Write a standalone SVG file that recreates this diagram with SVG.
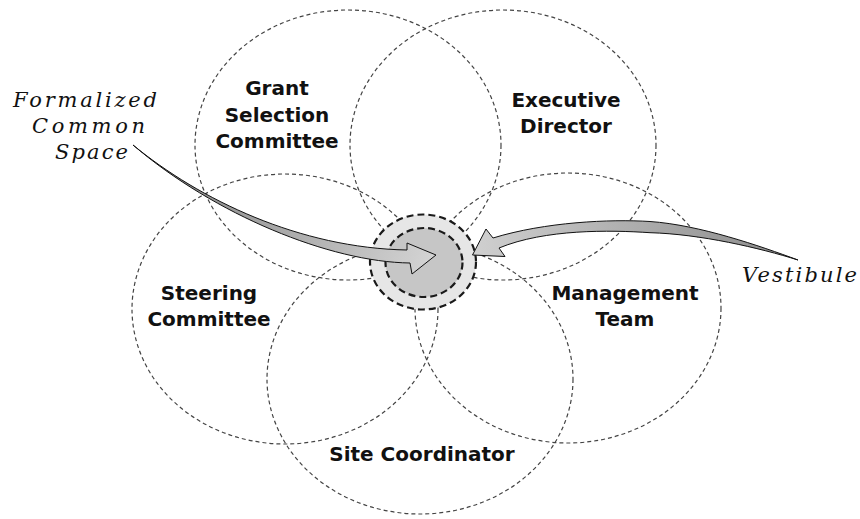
<svg xmlns="http://www.w3.org/2000/svg" width="860" height="519" viewBox="0 0 860 519">
<style>
.ring{fill:none;stroke:#444;stroke-width:1.2;stroke-dasharray:4 3}
.lbl{font-family:"DejaVu Sans","Liberation Sans",sans-serif;font-weight:bold;font-size:20px;fill:#111;text-anchor:middle}
.script{font-family:"DejaVu Serif","Liberation Serif",serif;font-style:italic;font-size:21px;fill:#111}
.core{stroke:#1a1a1a;stroke-width:2.2;stroke-dasharray:7 4}
.arrow{stroke:#111;stroke-width:1;stroke-linejoin:miter}
</style>
<defs>
<linearGradient id="gL" x1="133" y1="145" x2="436" y2="255" gradientUnits="userSpaceOnUse">
<stop offset="0" stop-color="#7a7a7a"/><stop offset="1" stop-color="#d4d4d4"/>
</linearGradient>
<linearGradient id="gR" x1="798" y1="260" x2="472" y2="255" gradientUnits="userSpaceOnUse">
<stop offset="0" stop-color="#8a8a8a"/><stop offset="1" stop-color="#d0d0d0"/>
</linearGradient>
</defs>
<rect width="860" height="519" fill="#fff"/>
<g id="grant-selection-committee">
<ellipse class="ring" cx="348" cy="145" rx="153" ry="135"/>
</g>
<g id="executive-director">
<ellipse class="ring" cx="503" cy="145" rx="153" ry="135"/>
</g>
<g id="steering-committee">
<ellipse class="ring" cx="285" cy="309" rx="153" ry="135"/>
</g>
<g id="management-team">
<ellipse class="ring" cx="568" cy="308" rx="153" ry="135"/>
</g>
<g id="site-coordinator">
<ellipse class="ring" cx="420" cy="379" rx="153" ry="135"/>
</g>
<g id="common-space">
<ellipse class="core" cx="423" cy="262" rx="53" ry="47.5" fill="#e6e6e6"/>
<ellipse class="core" cx="424" cy="262.5" rx="38.5" ry="34.5" fill="#c6c6c6"/>
</g>
<g id="connectors">
<path class="arrow" fill="url(#gL)" d="M133,145 C200,200 300,248 407,250 L407,243 L436,255 L412,274 L410,263 C330,262 215,215 133,145 Z"/>
<path class="arrow" fill="url(#gR)" d="M798,260 C760,246 700,225 650,221.5 C610,219 545,222 493,238 L486,229 L472.5,255 L505,256.5 L499,248 C545,229 610,230 650,232.7 C700,234 760,248 798,260 Z"/>
</g>
<g id="labels">
<text class="lbl" x="277" y="95">Grant</text>
<text class="lbl" x="277" y="122">Selection</text>
<text class="lbl" x="277" y="148">Committee</text>
<text class="lbl" x="566" y="107">Executive</text>
<text class="lbl" x="566" y="133">Director</text>
<text class="lbl" x="209" y="300">Steering</text>
<text class="lbl" x="209" y="326">Committee</text>
<text class="lbl" x="625" y="300">Management</text>
<text class="lbl" x="625" y="326">Team</text>
<text class="lbl" x="422" y="461">Site Coordinator</text>
<text class="script" x="13" y="107" textLength="144" lengthAdjust="spacing">Formalized</text>
<text class="script" x="32" y="133" textLength="113" lengthAdjust="spacing">Common</text>
<text class="script" x="55" y="159" textLength="73" lengthAdjust="spacing">Space</text>
<text class="script" x="742" y="282" textLength="115" lengthAdjust="spacing">Vestibule</text>
</g>
</svg>
